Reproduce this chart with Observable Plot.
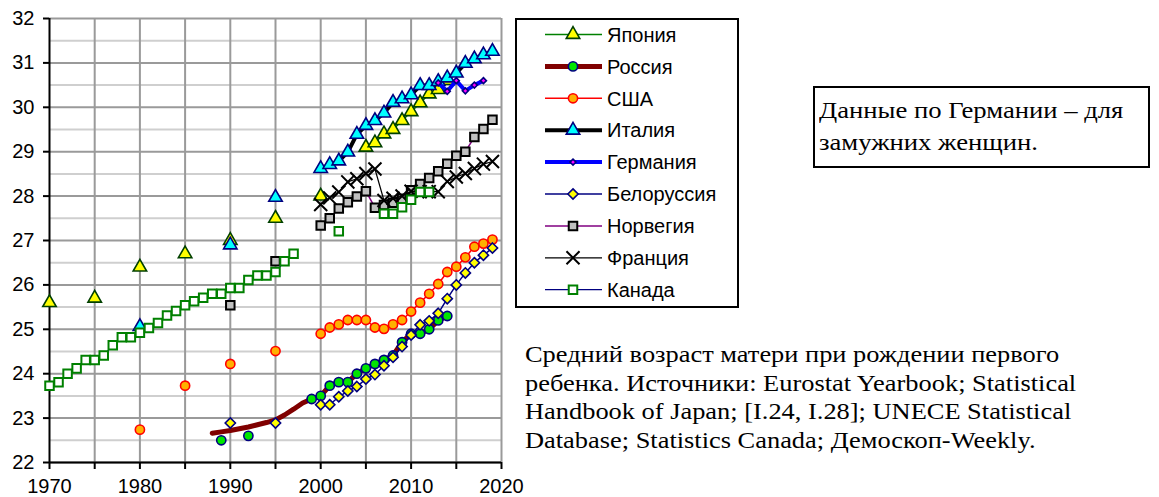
<!DOCTYPE html>
<html><head><meta charset="utf-8">
<script src="https://cdn.jsdelivr.net/npm/d3@7"></script>
<script src="https://cdn.jsdelivr.net/npm/@observablehq/plot@0.6"></script>
<style>
body{margin:0;background:#fff;width:1159px;height:497px;position:relative;overflow:hidden;}
#chart{position:absolute;left:0;top:0;}
#legend{position:absolute;left:515px;top:18px;width:224px;height:290px;border:2px solid #000;box-sizing:border-box;background:#fff;}
#legend svg{position:absolute;left:0;top:0;}
#note{position:absolute;left:813px;top:86px;width:337px;height:82px;border:2px solid #000;box-sizing:border-box;color:#000;}
#note div{position:absolute;left:4px;top:6px;font-family:"Liberation Serif","Times New Roman",serif;font-size:24px;line-height:32px;white-space:nowrap;transform:scaleX(1.11);transform-origin:0 0;}
#caption{position:absolute;left:525px;top:340px;font-family:"Liberation Serif","Times New Roman",serif;font-size:24px;line-height:28.7px;color:#000;white-space:nowrap;transform:scaleX(1.1);transform-origin:0 0;}
</style></head><body>
<div id="chart"></div>
<div id="legend"></div>
<div id="note"><div>Данные по Германии – для<br>замужних женщин.</div></div>
<div id="caption">Средний возраст матери при рождении первого<br>ребенка. Источники: Eurostat Yearbook; Statistical<br>Handbook of Japan; [I.24, I.28]; UNECE Statistical<br>Database; Statistics Canada; Демоскоп-Weekly.</div>
<script>
// ---- data ----
const japanYears = [1970,1975,1980,1985,1990,1995,2000,2005,2006,2007,2008,2009,2010,2011,2012,2013,2014];
const japanValues = [25.6,25.7,26.4,26.7,27.0,27.5,28.0,29.1,29.2,29.4,29.5,29.7,29.9,30.1,30.3,30.4,30.6];

const russiaYears = [1989,1992,1999,2000,2001,2002,2003,2004,2005,2006,2007,2008,2009,2010,2011,2012,2013,2014];
const russiaValues = [22.5,22.6,23.43,23.5,23.73,23.81,23.81,24.0,24.12,24.22,24.31,24.41,24.71,24.9,24.9,25.0,25.2,25.3];
const russiaLineYears = [1988,1989,1990,1991,1992,1993,1994,1995,1996,1997,1998,1999,2000,2001,2002,2003,2004,2005,2006,2007,2008,2009,2010,2011,2012,2013,2014];
const russiaLineValues = [22.66,22.69,22.72,22.76,22.8,22.85,22.9,22.96,23.07,23.2,23.34,23.43,23.5,23.73,23.81,23.81,24.0,24.12,24.22,24.31,24.41,24.71,24.9,24.9,25.0,25.2,25.3];

const usaYears = [1980,1985,1990,1995,2000,2001,2002,2003,2004,2005,2006,2007,2008,2009,2010,2011,2012,2013,2014,2015,2016,2017,2018,2019];
const usaValues = [22.74,23.73,24.22,24.51,24.9,25.04,25.11,25.21,25.21,25.21,25.04,25.01,25.11,25.21,25.4,25.6,25.8,26.02,26.29,26.41,26.62,26.86,26.93,27.02];

const italyYears = [1980,1990,1995,2000,2001,2002,2003,2004,2005,2006,2007,2008,2009,2010,2011,2012,2013,2014,2015,2016,2017,2018,2019];
const italyValues = [25.06,26.9,27.97,28.62,28.71,28.79,28.99,29.39,29.59,29.7,29.87,30.11,30.19,30.28,30.49,30.49,30.58,30.66,30.77,30.99,31.09,31.18,31.26];

const germanyYears = [2013,2014,2015,2016,2017,2018];
const germanyValues = [30.55,30.36,30.6,30.37,30.5,30.6];

const belarusYears = [1990,1995,2000,2001,2002,2003,2004,2005,2006,2007,2008,2009,2010,2011,2012,2013,2014,2015,2016,2017,2018,2019];
const belarusValues = [22.89,22.89,23.3,23.3,23.48,23.61,23.71,23.88,23.98,24.18,24.37,24.61,24.87,25.1,25.19,25.36,25.69,26.0,26.27,26.5,26.67,26.83];

const norwayYears = [1990,1995,2000,2001,2002,2003,2004,2005,2006,2007,2008,2009,2010,2011,2012,2013,2014,2015,2016,2017,2018,2019];
const norwayValues = [25.54,26.53,27.34,27.5,27.72,27.86,27.99,28.11,27.74,27.8,27.85,27.94,28.13,28.27,28.41,28.56,28.73,28.91,29.0,29.33,29.51,29.72];

const franceYears = [2000,2001,2002,2003,2004,2005,2006,2007,2008,2009,2010,2011,2012,2013,2014,2015,2016,2017,2018,2019];
const franceValues = [27.81,27.96,28.09,28.32,28.39,28.51,28.61,27.9,27.95,28.0,28.11,28.1,28.1,28.1,28.33,28.43,28.51,28.62,28.72,28.78];

const canadaYears = [1970,1971,1972,1973,1974,1975,1976,1977,1978,1979,1980,1981,1982,1983,1984,1985,1986,1987,1988,1989,1990,1991,1992,1993,1994,1995,1996,1997,2002,2007,2008,2009,2010,2011,2012];
const canadaValues = [23.73,23.81,24.0,24.12,24.31,24.31,24.41,24.64,24.82,24.82,24.92,25.03,25.14,25.31,25.41,25.54,25.63,25.71,25.8,25.8,25.93,25.93,26.11,26.21,26.21,26.29,26.53,26.7,27.21,27.6,27.6,27.75,27.92,28.09,28.09];

const yMajorTicks = [22,23,24,25,26,27,28,29,30,31,32];
const yMinorTicks = [22.5,23.5,24.5,25.5,26.5,27.5,28.5,29.5,30.5,31.5];
const xGridTicks = [1975,1980,1985,1990,1995,2000,2005,2010,2015,2020];
const xLabelTicks = [1970,1980,1990,2000,2010,2020];
const xMinorTicks = [1975,1985,1995,2005,2015];

// ---- series styles ----
const series = [
  {name:"Япония", years:japanYears, values:japanValues, symbol:"triangle", r:5.0, fill:"#ffff00", stroke:"#004000", line:"#008000", lw:1.5},
  {name:"Россия", years:russiaYears, values:russiaValues, symbol:"circle", r:4.6, fill:"#00e600", stroke:"#000080", line:"#800000", lw:5, lineYears:russiaLineYears, lineValues:russiaLineValues},
  {name:"США", years:usaYears, values:usaValues, symbol:"circle", r:4.6, fill:"#ffb000", stroke:"#ff0000", line:"#ff0000", lw:1.5},
  {name:"Италия", years:italyYears, values:italyValues, symbol:"triangle", r:5.0, fill:"#00ffff", stroke:"#000080", line:"#000000", lw:4},
  {name:"Германия", years:germanyYears, values:germanyValues, symbol:"diamond2", r:2.7, fill:"#ff00ff", stroke:"#000080", line:"#0000ff", lw:4},
  {name:"Белоруссия", years:belarusYears, values:belarusValues, symbol:"diamond2", r:4.6, fill:"#ffff00", stroke:"#000080", line:"#000080", lw:1.5},
  {name:"Норвегия", years:norwayYears, values:norwayValues, symbol:"square", r:4.8, fill:"#c0c0c0", stroke:"#000000", line:"#800080", lw:1.5},
  {name:"Франция", years:franceYears, values:franceValues, symbol:"times", r:6.0, fill:"none", stroke:"#000000", line:"#000000", lw:1.2},
  {name:"Канада", years:canadaYears, values:canadaValues, symbol:"square", r:4.8, fill:"#ffffff", stroke:"#008000", line:"#000080", lw:1.2}
];

function lineRows(years, values) {
  const rows = [];
  for (let i = 0; i < years.length; i++) {
    if (i > 0 && years[i] - years[i-1] > 1) rows.push({x:(years[i]+years[i-1])/2, y:NaN});
    rows.push({x:years[i], y:values[i]});
  }
  return rows;
}
const sw = s => s.symbol==="times" ? 2 : (s.symbol==="square" ? 2 : 1.6);

const marks = [
  Plot.ruleY(yMinorTicks, {stroke:"#cfcfcf", strokeWidth:2}),
  Plot.ruleY(yMajorTicks, {stroke:"#9a9a9a", strokeWidth:2}),
  Plot.ruleX(xGridTicks, {stroke:"#9a9a9a", strokeWidth:2}),
  Plot.ruleX([1970], {stroke:"#000", strokeWidth:2}),
  Plot.ruleY([22], {stroke:"#000", strokeWidth:2}),
  Plot.axisY({ticks:yMajorTicks, tickSize:6, tickPadding:9, tickFormat:d=>String(d), label:null, stroke:"#000", strokeWidth:2}),
  Plot.axisX({ticks:xLabelTicks, tickSize:7, tickPadding:9, tickFormat:d=>String(d), label:null, stroke:"#000", strokeWidth:2}),
  Plot.axisX({ticks:xMinorTicks, tickSize:7, text:null, label:null, stroke:"#000", strokeWidth:2})
];

for (const s of series) {
  const ly = s.lineYears || s.years, lv = s.lineValues || s.values;
  marks.push(Plot.line(lineRows(ly, lv), {x:"x", y:"y", stroke:s.line, strokeWidth:s.lw}));
  const pts = s.years.map((y,i)=>({x:y, y:s.values[i]}));
  marks.push(Plot.dot(pts, {x:"x", y:"y", symbol:s.symbol, r:s.r, fill:s.fill, stroke:s.stroke, strokeWidth:sw(s)}));
}

const chart = Plot.plot({
  width:1159, height:497,
  marginLeft:49, marginRight:658, marginTop:18, marginBottom:35,
  x:{domain:[1970,2020]},
  y:{domain:[22,32]},
  style:{fontFamily:"'Liberation Sans', Arial, sans-serif", fontSize:"20px", color:"#000", background:"transparent", overflow:"visible"},
  marks
});
document.getElementById("chart").appendChild(chart);

// ---- legend ----
const symMap = {triangle:d3.symbolTriangle, circle:d3.symbolCircle, diamond2:d3.symbolDiamond2, square:d3.symbolSquare, times:d3.symbolTimes};
const lg = d3.select("#legend").append("svg").attr("width",220).attr("height",286);
series.forEach((s,i)=>{
  const cy = 14.5 + i*31.9;
  const g = lg.append("g");
  g.append("line").attr("x1",28).attr("x2",85).attr("y1",cy).attr("y2",cy).attr("stroke",s.line).attr("stroke-width",s.lw);
  g.append("path").attr("d", d3.symbol(symMap[s.symbol], s.r*s.r*Math.PI)()).attr("transform",`translate(56,${cy})`)
    .attr("fill",s.fill).attr("stroke",s.stroke).attr("stroke-width",sw(s));
  g.append("text").attr("x",90).attr("y",cy).attr("dy","0.36em").attr("font-family","'Liberation Sans', Arial, sans-serif").attr("font-size",20).attr("fill","#000").text(s.name);
});
</script>
</body></html>
